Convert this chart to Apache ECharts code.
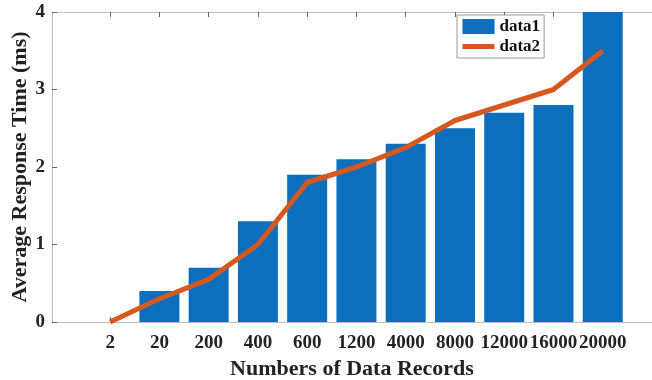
<!DOCTYPE html>
<html>
<head>
<meta charset="utf-8">
<script src="https://cdn.jsdelivr.net/npm/echarts@6/dist/echarts.min.js"></script>
<style>html,body{margin:0;padding:0;background:#fff}#c{width:652px;height:380px}</style>
</head>
<body>
<div id="c"></div>
<script>
var categories = ['2','20','200','400','600','1200','4000','8000','12000','16000','20000'];
var data1 = [0, 0.4, 0.7, 1.3, 1.9, 2.1, 2.3, 2.5, 2.7, 2.8, 4.2];
var data2 = [0, 0.3, 0.55, 1.0, 1.8, 2.0, 2.25, 2.6, 2.8, 3.0, 3.5];
var yTicks = [0, 1, 2, 3, 4];

var idx = categories.map(function (c, i) { return i; });
var font = 'Liberation Serif';
var chart = echarts.init(document.getElementById('c'));
var axisCol = '#bcbcbc';
chart.setOption({
  animation: false,
  grid: { left: 52, right: 0, top: 12, bottom: 58, outerBoundsMode: 'none', containLabel: false },
  legend: {
    left: 457, top: 15,
    orient: 'vertical',
    backgroundColor: '#fff',
    borderColor: '#9a9a9a', borderWidth: 1,
    padding: [3, 4, 3, 3],
    itemGap: 3,
    itemWidth: 32, itemHeight: 15,
    textStyle: { fontFamily: font, fontWeight: 'bold', fontSize: 17, color: '#111' },
    data: [{ name: 'data1', icon: 'rect' },
           { name: 'data2', itemStyle: { opacity: 0 }, lineStyle: { width: 5, color: '#d5591f' } }]
  },
  xAxis: [{
    type: 'value', min: -1.18, max: 11,
    name: 'Numbers of Data Records', nameLocation: 'middle', nameGap: 34,
    nameTextStyle: { fontFamily: font, fontWeight: 'bold', fontSize: 22, color: '#222' },
    axisLine: { show: true, onZero: false, lineStyle: { color: axisCol, width: 1 } },
    axisTick: { show: true, inside: true, length: 5, customValues: idx, lineStyle: { color: '#666' } },
    axisLabel: {
      customValues: idx, margin: 12,
      fontFamily: font, fontWeight: 'bold', fontSize: 19, color: '#222',
      formatter: function (v) { return categories[Math.round(v)]; }
    },
    splitLine: { show: false }
  }, {
    type: 'value', min: -1.18, max: 11, position: 'top',
    axisLine: { show: true, onZero: false, lineStyle: { color: axisCol, width: 1 } },
    axisTick: { show: true, inside: true, length: 5, customValues: idx, lineStyle: { color: '#666' } },
    axisLabel: { show: false },
    splitLine: { show: false }
  }],
  yAxis: {
    type: 'value', min: 0, max: 4, interval: 1,
    name: 'Average Response Time (ms)', nameLocation: 'middle', nameGap: 21, nameMoveOverlap: false,
    nameTextStyle: { fontFamily: font, fontWeight: 'bold', fontSize: 22, color: '#222' },
    axisLine: { show: true, onZero: false, lineStyle: { color: axisCol, width: 1 } },
    axisTick: { show: true, inside: true, length: 5, lineStyle: { color: '#666' } },
    axisLabel: { margin: 7, fontFamily: font, fontWeight: 'bold', fontSize: 19, color: '#222',
      formatter: function (v) { return yTicks.indexOf(v) >= 0 ? String(v) : ''; } },
    splitLine: { show: false }
  },
  series: [{
    name: 'data1', type: 'bar', barWidth: 40,
    itemStyle: { color: '#0b6fbd' },
    data: data1.map(function (v, i) { return [i, v]; })
  }, {
    name: 'data2', type: 'line', symbol: 'none',
    lineStyle: { color: '#d5591f', width: 5 },
    itemStyle: { color: '#d5591f' },
    data: data2.map(function (v, i) { return [i, v]; })
  }]
});
</script>
</body>
</html>
